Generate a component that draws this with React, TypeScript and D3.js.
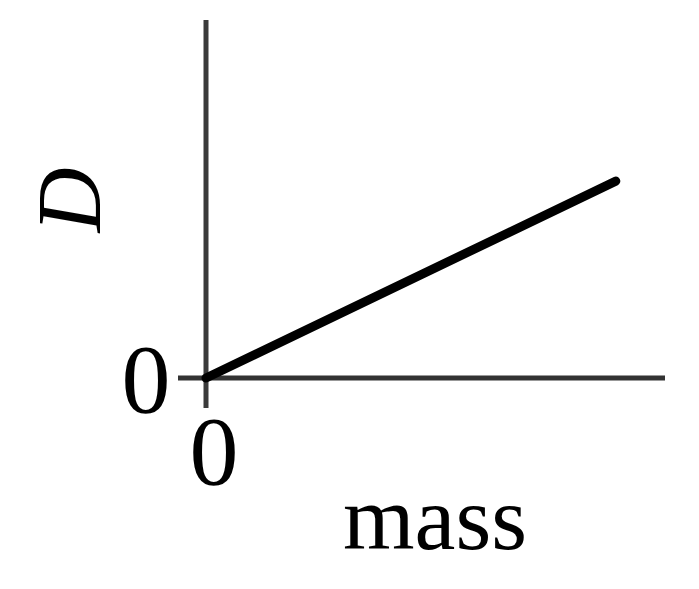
import React from 'react';
import * as d3 from 'd3';

// line D vs mass, passing through origin
const massValues = [0, 10];
const dValues = [0, 5.5];
const xTickLabels = ['0'];
const yTickLabels = ['0'];

const width = 699;
const height = 589;
const margin = { top: 20, right: 34, bottom: 211, left: 206 };

export default function App() {
  const x = d3.scaleLinear().domain([0, 11.2]).range([margin.left, width - margin.right]);
  const y = d3.scaleLinear().domain([0, 10]).range([height - margin.bottom, margin.top]);

  const line = d3.line<number>()
    .x((d, i) => x(massValues[i]))
    .y(d => y(d));

  const x0 = x(0);
  const y0 = y(0);
  const font = '"Liberation Serif", "DejaVu Serif", serif';

  return (
    <svg width={width} height={height} style={{ position: 'absolute', left: 0, top: 0, background: '#fff' }}>
      {/* axes */}
      <line x1={x0} x2={x0} y1={y(10)} y2={y0 + 30} stroke="#3a3a3a" strokeWidth={5} />
      <line x1={x0 - 28} x2={x(11.2)} y1={y0} y2={y0} stroke="#333" strokeWidth={5} />
      <path d={line(dValues) || ''} fill="none" stroke="#000" strokeWidth={9} strokeLinecap="round" />
      {/* tick labels */}
      {yTickLabels.map(t => (
        <text key={'y' + t} x={x0 - 60} y={y0 + 34} fontFamily={font} fontSize={98} textAnchor="middle">{t}</text>
      ))}
      {xTickLabels.map(t => (
        <text key={'x' + t} x={x0 + 8} y={y0 + 106} fontFamily={font} fontSize={98} textAnchor="middle">{t}</text>
      ))}
      {/* axis titles */}
      <text x={435} y={549} fontFamily={font} fontSize={92} textAnchor="middle">mass</text>
      <text transform="translate(100,200) rotate(-90)" fontFamily={font} fontSize={90} fontStyle="italic" textAnchor="middle">D</text>
    </svg>
  );
}
